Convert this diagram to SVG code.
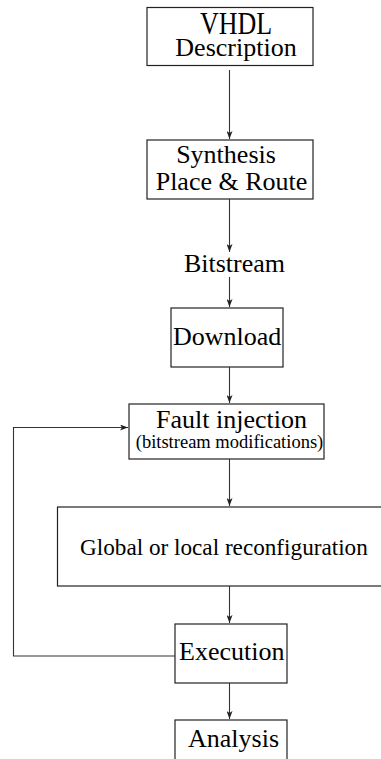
<svg xmlns="http://www.w3.org/2000/svg" width="381" height="759" viewBox="0 0 381 759">
  <style>
    .box { fill: #ffffff; stroke: #222222; stroke-width: 1.2; }
    .edge { fill: none; stroke: #333333; stroke-width: 1.1; }
    .t { font-family: "Liberation Serif", "Times New Roman", serif; font-size: 26px; fill: #000000; }
    .s { font-size: 18.5px; }
    .m { font-size: 23.2px; }
  </style>
  <defs>
    <marker id="arrow" viewBox="0 0 8 6" refX="8" refY="3" markerWidth="8" markerHeight="6" markerUnits="userSpaceOnUse" orient="auto">
      <path d="M0,0 L8,3 L0,6 L2,3 Z" fill="#222222"/>
    </marker>
  </defs>

  <rect width="381" height="759" fill="#ffffff"/>

  <g id="connectors">
    <line class="edge" x1="229.5" y1="70" x2="229.5" y2="139" marker-end="url(#arrow)"/>
    <line class="edge" x1="229.5" y1="199" x2="229.5" y2="252" marker-end="url(#arrow)"/>
    <line class="edge" x1="229.5" y1="277" x2="229.5" y2="307" marker-end="url(#arrow)"/>
    <line class="edge" x1="229.5" y1="367" x2="229.5" y2="403" marker-end="url(#arrow)"/>
    <line class="edge" x1="229.5" y1="459" x2="229.5" y2="506" marker-end="url(#arrow)"/>
    <line class="edge" x1="229.5" y1="586" x2="229.5" y2="623" marker-end="url(#arrow)"/>
    <line class="edge" x1="229.5" y1="683" x2="229.5" y2="719" marker-end="url(#arrow)"/>
    <polyline class="edge" points="175,656 13.5,656 13.5,427.5 128,427.5" marker-end="url(#arrow)"/>
  </g>

  <g id="vhdl">
    <rect class="box" x="147" y="7.5" width="166" height="58"/>
    <text class="t" transform="translate(236,34) scale(1,1.2)" text-anchor="middle">VHDL</text>
    <text class="t" x="236" y="56" text-anchor="middle">Description</text>
  </g>

  <g id="synthesis">
    <rect class="box" x="147" y="140" width="166" height="59"/>
    <text class="t" x="226" y="163" text-anchor="middle">Synthesis</text>
    <text class="t" x="231.5" y="190" text-anchor="middle">Place &amp; Route</text>
  </g>

  <g id="bitstream">
    <text class="t" x="234.5" y="272" text-anchor="middle">Bitstream</text>
  </g>

  <g id="download">
    <rect class="box" x="171" y="308" width="112" height="59"/>
    <text class="t" x="173" y="345">Download</text>
  </g>

  <g id="fault-injection">
    <rect class="box" x="129" y="404" width="195" height="55"/>
    <text class="t" x="231.5" y="428" text-anchor="middle">Fault injection</text>
    <text class="t s" x="229.5" y="448" text-anchor="middle">(bitstream modifications)</text>
  </g>

  <g id="reconfiguration">
    <rect class="box" x="57.5" y="507" width="330" height="79"/>
    <text class="t m" x="80" y="555">Global or local reconfiguration</text>
  </g>

  <g id="execution">
    <rect class="box" x="175" y="624" width="112" height="59"/>
    <text class="t" x="179" y="660">Execution</text>
  </g>

  <g id="analysis">
    <rect class="box" x="175" y="720" width="112" height="50"/>
    <text class="t" x="188" y="747">Analysis</text>
  </g>
</svg>
